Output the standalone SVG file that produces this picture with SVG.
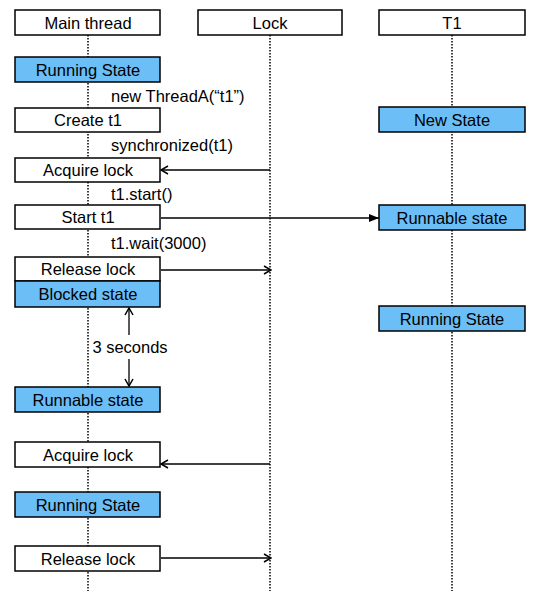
<svg xmlns="http://www.w3.org/2000/svg" width="534" height="591" viewBox="0 0 534 591">
<style>
.box{fill:#fff;stroke:#000;stroke-width:1.5}
.blue{fill:#6BBEF6;stroke:#000;stroke-width:1.5}
.life{stroke:#000;stroke-width:1.5;stroke-dasharray:1.5 1.5;fill:none}
.t{font-family:"Liberation Sans",Arial,sans-serif;font-size:16.5px;fill:#000;text-anchor:middle;dominant-baseline:central}
.lbl{font-family:"Liberation Sans",Arial,sans-serif;font-size:16.5px;fill:#000;dominant-baseline:central}
.ln{stroke:#000;stroke-width:1.3;fill:none}
</style>
<defs>
<marker id="open" viewBox="0 0 10 10" refX="9" refY="5" markerWidth="10" markerHeight="10" markerUnits="userSpaceOnUse" orient="auto">
<path d="M2,1 L9,5 L2,9" fill="none" stroke="#000" stroke-width="1.5"/>
</marker>
<marker id="filled" viewBox="0 0 10 10" refX="10" refY="5" markerWidth="10" markerHeight="10" markerUnits="userSpaceOnUse" orient="auto">
<path d="M0,1 L10,5 L0,9 Z" fill="#000"/>
</marker>
</defs>
<g id="lifelines">
<line class="life" x1="88" y1="35" x2="88" y2="591"/>
<line class="life" x1="270" y1="35" x2="270" y2="591"/>
<line class="life" x1="452" y1="35" x2="452" y2="591"/>
</g>
<g id="connectors">
<line class="ln" x1="270" y1="170" x2="161" y2="170" marker-end="url(#open)"/>
<line class="ln" x1="161" y1="218" x2="379" y2="218" marker-end="url(#filled)"/>
<line class="ln" x1="161" y1="270" x2="271" y2="270" marker-end="url(#open)"/>
<line class="ln" x1="129" y1="335" x2="129" y2="308" marker-end="url(#open)"/>
<line class="ln" x1="129" y1="359" x2="129" y2="386" marker-end="url(#open)"/>
<line class="ln" x1="270" y1="464" x2="161" y2="464" marker-end="url(#open)"/>
<line class="ln" x1="161" y1="558" x2="271" y2="558" marker-end="url(#open)"/>
</g>
<g id="header-main"><rect class="box" x="15" y="10" width="145" height="25"/><text class="t" x="88" y="23">Main thread</text></g>
<g id="header-lock"><rect class="box" x="198" y="10" width="144" height="25"/><text class="t" x="270" y="23">Lock</text></g>
<g id="header-t1"><rect class="box" x="379" y="10" width="146" height="25"/><text class="t" x="452" y="23">T1</text></g>
<g id="main-running1"><rect class="blue" x="15" y="57" width="145" height="25"/><text class="t" x="88" y="70">Running State</text></g>
<g id="main-create"><rect class="box" x="15" y="108" width="145" height="24"/><text class="t" x="88" y="120">Create t1</text></g>
<g id="main-acquire1"><rect class="box" x="15" y="158" width="145" height="24"/><text class="t" x="88" y="170">Acquire lock</text></g>
<g id="main-start"><rect class="box" x="15" y="205" width="145" height="24"/><text class="t" x="88" y="217">Start t1</text></g>
<g id="main-release1"><rect class="box" x="15" y="257" width="145" height="24"/><text class="t" x="88" y="269">Release lock</text></g>
<g id="main-blocked"><rect class="blue" x="15" y="281" width="145" height="26"/><text class="t" x="88" y="294">Blocked state</text></g>
<g id="main-runnable"><rect class="blue" x="15" y="387" width="145" height="25"/><text class="t" x="88" y="400">Runnable state</text></g>
<g id="main-acquire2"><rect class="box" x="15" y="442" width="145" height="25"/><text class="t" x="88" y="455">Acquire lock</text></g>
<g id="main-running2"><rect class="blue" x="15" y="492" width="145" height="25"/><text class="t" x="88" y="505">Running State</text></g>
<g id="main-release2"><rect class="box" x="15" y="546" width="145" height="25"/><text class="t" x="88" y="559">Release lock</text></g>
<g id="t1-new"><rect class="blue" x="379" y="107" width="146" height="25"/><text class="t" x="452" y="120">New State</text></g>
<g id="t1-runnable"><rect class="blue" x="379" y="205" width="146" height="25"/><text class="t" x="452" y="218">Runnable state</text></g>
<g id="t1-running"><rect class="blue" x="379" y="306" width="146" height="25"/><text class="t" x="452" y="319">Running State</text></g>
<g id="labels">
<text class="lbl" x="111" y="96">new ThreadA(“t1”)</text>
<text class="lbl" x="111" y="145">synchronized(t1)</text>
<text class="lbl" x="111" y="194">t1.start()</text>
<text class="lbl" x="111" y="243">t1.wait(3000)</text>
<text class="lbl" x="130" y="347" text-anchor="middle">3 seconds</text>
</g>
</svg>
